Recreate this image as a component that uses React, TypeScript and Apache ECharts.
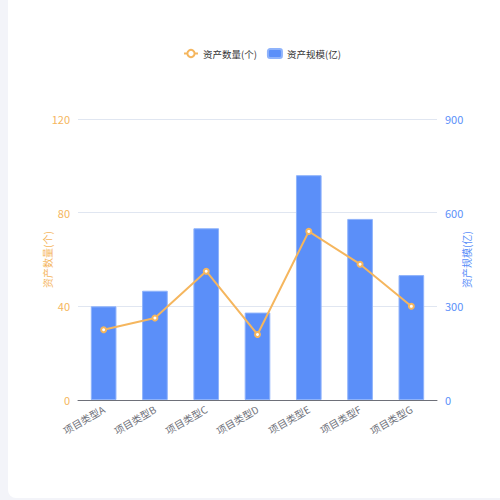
import React, { useEffect, useRef } from 'react'
import * as echarts from 'echarts'

const categories = ['项目类型A', '项目类型B', '项目类型C', '项目类型D', '项目类型E', '项目类型F', '项目类型G']
const assetCount = [30, 35, 55, 28, 72, 58, 40]
const assetScale = [300, 350, 550, 280, 720, 580, 400]
const countTicks = { max: 120, interval: 40 }
const scaleTicks = { max: 900, interval: 300 }

const ORANGE = '#f5b65e'
const BLUE = '#5b8ff9'

const App = function () {
  const chartDom = useRef<HTMLDivElement>(null)

  useEffect(() => {
    const chart = echarts.init(chartDom.current!, null, { renderer: 'svg' })
    chart.setOption({
      animation: false,
      textStyle: { fontFamily: '"Noto Sans CJK SC", "Noto Sans", sans-serif' },
      legend: {
        top: 43,
        left: 178,
        itemWidth: 14,
        itemHeight: 9,
        itemGap: 10,
        textStyle: { fontSize: 9.5, color: '#333' },
        data: [
          { name: '资产数量(个)' },
          { name: '资产规模(亿)', itemStyle: { borderRadius: 3 } },
        ],
      },
      grid: { left: 78, right: 63, top: 119, bottom: 100 },
      xAxis: {
        type: 'category',
        data: categories,
        axisLine: { lineStyle: { color: '#6e7079' } },
        axisLabel: { rotate: 30, fontSize: 10, color: '#6e7079', margin: 8 },
      },
      yAxis: [
        {
          type: 'value',
          name: '资产数量(个)',
          nameLocation: 'middle',
          nameGap: 26,
          nameMoveOverlap: false,
          nameTextStyle: { color: ORANGE, fontSize: 10 },
          min: 0,
          max: countTicks.max,
          interval: countTicks.interval,
          axisLabel: { color: ORANGE, fontSize: 11 },
          splitLine: { lineStyle: { color: '#e0e6f1' } },
        },
        {
          type: 'value',
          name: '资产规模(亿)',
          nameLocation: 'middle',
          nameGap: 24,
          nameMoveOverlap: false,
          nameTextStyle: { color: BLUE, fontSize: 10 },
          min: 0,
          max: scaleTicks.max,
          interval: scaleTicks.interval,
          axisLabel: { color: BLUE, fontSize: 11 },
          splitLine: { show: false },
        },
      ],
      series: [
        {
          name: '资产规模(亿)',
          type: 'bar',
          yAxisIndex: 1,
          data: assetScale,
          barWidth: '50%',
          itemStyle: { color: BLUE, borderColor: '#8fb3fb', borderWidth: 1 },
        },
        {
          name: '资产数量(个)',
          type: 'line',
          yAxisIndex: 0,
          data: assetCount,
          symbol: 'emptyCircle',
          symbolSize: 5,
          lineStyle: { color: ORANGE, width: 2 },
          itemStyle: { color: ORANGE, borderWidth: 2 },
          z: 3,
        },
      ],
    })
    return () => {
      chart.dispose()
    }
  }, [])

  return (
    <div style={{ position: 'fixed', inset: 0, background: '#f3f4f9' }}>
      <div
        style={{
          position: 'absolute',
          left: 8,
          top: -8,
          width: 520,
          height: 506,
          background: '#fff',
          borderRadius: 8,
        }}
      />
      <div ref={chartDom} style={{ position: 'absolute', left: 0, top: 0, width: 500, height: 500 }} />
    </div>
  )
}

export default App
